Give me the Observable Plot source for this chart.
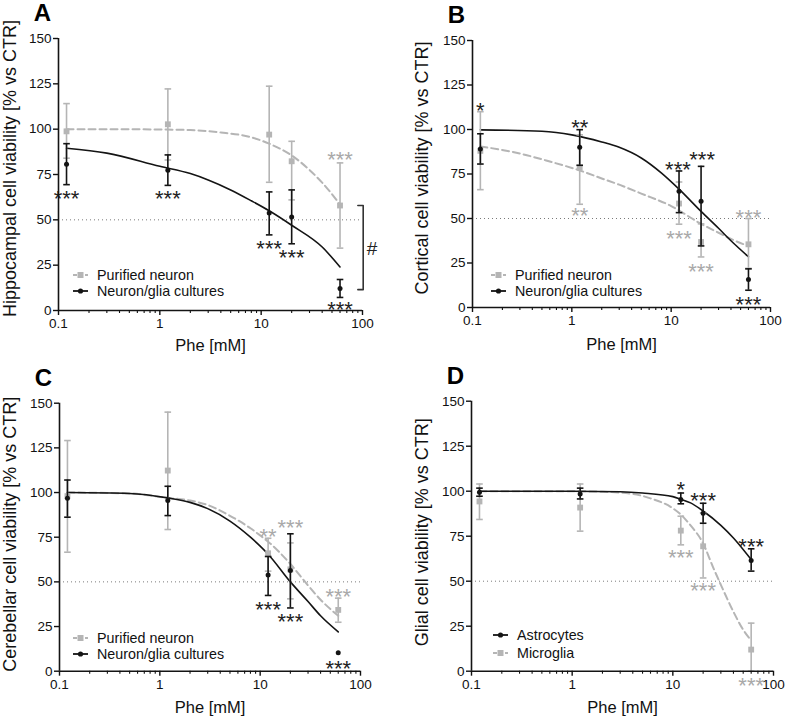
<!DOCTYPE html>
<html>
<head>
<meta charset="utf-8">
<script src="https://cdn.jsdelivr.net/npm/d3@7"></script>
<script src="https://cdn.jsdelivr.net/npm/@observablehq/plot@0.6"></script>
<style>
  body { margin: 0; background: #fff; }
  #wrap { position: relative; width: 787px; height: 719px; overflow: hidden; font-family: "Liberation Sans", Arial, sans-serif; }
  .leg { position: absolute; display: flex; align-items: center; height: 14px; line-height: 14px; font-size: 14.3px; color: #111; white-space: nowrap; }
  .leg svg { margin-right: 9px; flex: none; }
</style>
</head>
<body>
<div id="wrap"></div>
<script>
// ---------- shared axis data ----------
const doses = [0.12, 1.2, 12, 20, 60];
const xTicks = [0.1, 1, 10, 100];
const xMinor = [0.2, 0.3, 0.4, 0.5, 0.6, 0.7, 0.8, 0.9, 2, 3, 4, 5, 6, 7, 8, 9, 20, 30, 40, 50, 60, 70, 80, 90];
const yTicks = [0, 25, 50, 75, 100, 125, 150];
const xLabel = "Phe [mM]";

// ---------- Panel A: hippocampal ----------
const aPurMean = [98.8, 102.7, 97, 82.3, 57.9];
const aPurLo   = [84, 83, 70.7, 61, 34.4];
const aPurHi   = [114.1, 122.2, 123.7, 93.3, 81.4];
const aNgMean  = [80.6, 77.3, 53.8, 51.5, 12.2];
const aNgLo    = [69.4, 69, 41.7, 36.8, 7.2];
const aNgHi    = [92, 85.8, 65.4, 66.5, 17.1];
const aPurFitX = [0.12, 0.5, 1, 2, 4, 8, 12, 20, 30, 40, 60];
const aPurFitY = [100, 100, 99.8, 99.5, 98.2, 95.5, 92, 85.5, 77.5, 70.5, 58.5];
const aNgFitX  = [0.12, 0.3, 1, 2, 3, 5, 8, 12, 20, 40, 60];
const aNgFitY  = [89.5, 86.8, 79.5, 75.5, 72, 66.5, 60.5, 55, 47, 35, 24];
const aStarX   = [0.12, 1.2, 12, 20, 60, 60];
const aStarY   = [64.5, 64, 36.8, 31.8, 3.2, 86];
const aStarT   = ["***", "***", "***", "***", "***", "***"];
const aStarG   = ["ng", "ng", "ng", "ng", "ng", "pur"];
const aBracketX = [90, 101.6];
const aBracketY = [57.9, 11.5];
const aHashX = 124;
const aHashY = 34;

// ---------- Panel B: cortical ----------
const bPurMean = [88, 78.6, 58.4, 36.8, 35.5];
const bPurLo   = [66.2, 58, 46.8, 28.4, 22];
const bPurHi   = [110, 97, 70.5, 47, 50];
const bNgMean  = [89, 90, 65.3, 59.7, 15.7];
const bNgLo    = [80.6, 79.9, 53.3, 34.6, 9.7];
const bNgHi    = [97.6, 99.9, 76.7, 79.3, 21.7];
const bPurFitX = [0.12, 0.3, 0.6, 1.2, 2, 3, 5, 10, 20, 30, 40, 60];
const bPurFitY = [90.5, 86.5, 82, 77, 72.5, 69, 64, 57, 47, 42, 38.5, 34.5];
const bNgFitX  = [0.12, 0.5, 1, 2, 3, 5, 8, 12, 20, 30, 40, 60];
const bNgFitY  = [99.8, 99, 97, 93, 90, 84, 75.5, 66.5, 54, 44.5, 37.5, 28.5];
const bStarX   = [0.12, 1.2, 11.7, 20.5, 60, 1.2, 12, 20, 60];
const bStarY   = [113, 103.5, 80.3, 85.5, 4.1, 54, 41.5, 22.8, 53.3];
const bStarT   = ["*", "**", "***", "***", "***", "**", "***", "***", "***"];
const bStarG   = ["ng", "ng", "ng", "ng", "ng", "pur", "pur", "pur", "pur"];

// ---------- Panel C: cerebellar ----------
const cPurMean = [98, 112.3, 66, 57, 34.3];
const cPurLo   = [66.6, 79.3, 56, 40.5, 27.4];
const cPurHi   = [129.1, 145, 74.4, 71.8, 40.9];
const cNgMean  = [96.8, 95.5, 53.9, 56.3, 10.3];
const cNgLo    = [86.2, 87.1, 42.4, 35.4, null];
const cNgHi    = [107, 103.5, 64.2, 76.9, null];
const cPurFitX = [0.12, 0.5, 1.2, 2, 3, 5, 8, 10, 12, 20, 30, 40, 60];
const cPurFitY = [100, 99.5, 97, 95.5, 93, 87, 80, 76, 72.5, 60, 48, 40, 31];
const cNgFitX  = [0.12, 0.5, 1.2, 2, 3, 5, 8, 10, 12, 20, 30, 40, 60];
const cNgFitY  = [100, 99.5, 97, 94.5, 91, 84, 75, 70, 65.5, 50, 39, 31, 22];
const cStarX   = [12, 20, 60, 12, 20, 60];
const cStarY   = [77.8, 82.8, 44.6, 36.8, 30.2, 4.1];
const cStarT   = ["**", "***", "***", "***", "***", "***"];
const cStarG   = ["pur", "pur", "pur", "ng", "ng", "ng"];

// ---------- Panel D: glial ----------
const dAstMean = [99.4, 98.5, 95.4, 87.8, 61.5];
const dAstLo   = [97.2, 95.7, 93, 82.2, 55.6];
const dAstHi   = [101.7, 101.7, 99, 93.3, 68];
const dMicMean = [94.3, 90.9, 78.1, 69.4, 12];
const dMicLo   = [84.3, 77.8, 70.2, 51.8, 0];
const dMicHi   = [104, 104, 86.1, 88, 26.7];
const dMicFitX = [0.12, 1, 2, 4, 6, 10, 12, 15, 20, 25, 30, 40, 50, 60];
const dMicFitY = [100, 100, 99.7, 98.5, 96, 90.5, 87, 81, 71, 58, 48, 33, 23, 17];
const dAstFitX = [0.12, 1, 3, 5, 10, 12, 15, 20, 30, 40, 60];
const dAstFitY = [100, 100, 99.7, 99, 97, 95.5, 93.5, 89, 81, 74, 62];
const dStarX   = [12, 20, 60, 12, 20, 60];
const dStarY   = [103.2, 97.6, 72, 65.6, 47.2, -5.2];
const dStarT   = ["*", "***", "***", "***", "***", "***"];
const dStarG   = ["ng", "ng", "ng", "pur", "pur", "pur"];

// ---------- styling ----------
const FONT = "'Liberation Sans', Arial, sans-serif";
const GRAY = "#b5b5b5";
const GRAY_TXT = "#a9a9a9";
const BLACK = "#141414";
const capSym = { draw(ctx, size) { const r = Math.sqrt(size / Math.PI); ctx.moveTo(-r, 0); ctx.lineTo(r, 0); } };

function rows(mean, lo, hi) { return doses.map((d, i) => ({ dose: d, mean: mean[i], lo: lo[i], hi: hi[i] })); }
function pts(xs, ys) { return xs.map((x, i) => ({ x, y: ys[i] })); }
function stars(xs, ys, ts, gs) { return xs.map((x, i) => ({ x, y: ys[i], t: ts[i], g: gs[i] })); }

function seriesMarks(data, color, symbol, r) {
  return [
    Plot.ruleX(data, { x: "dose", y1: "lo", y2: "hi", stroke: color, strokeWidth: 1.6 }),
    Plot.dot(data, { x: "dose", y: "lo", symbol: capSym, r: 3.3, stroke: color, strokeWidth: 1.6, fill: "none" }),
    Plot.dot(data, { x: "dose", y: "hi", symbol: capSym, r: 3.3, stroke: color, strokeWidth: 1.6, fill: "none" }),
    Plot.dot(data, { x: "dose", y: "mean", symbol, r, fill: color, stroke: "none" })
  ];
}

function makePanel(cfg) {
  const st = cfg.stars;
  const marks = [
    Plot.ruleY([50], { stroke: "#7a7a7a", strokeWidth: 1, strokeDasharray: "1,3" }),
    Plot.line(cfg.grayFit, { x: "x", y: "y", curve: "monotone-x", stroke: GRAY, strokeWidth: 2, strokeDasharray: "7,4" }),
    Plot.line(cfg.blackFit, { x: "x", y: "y", curve: "monotone-x", stroke: BLACK, strokeWidth: 1.6 }),
    ...seriesMarks(cfg.grayRows, GRAY, "square", 3.3),
    ...seriesMarks(cfg.blackRows, BLACK, "circle", 2.5),
    Plot.text(st.filter(d => d.g === "pur"), { x: "x", y: "y", text: "t", fill: GRAY_TXT, fontSize: 22, dy: 5, lineAnchor: "middle" }),
    Plot.text(st.filter(d => d.g === "ng"), { x: "x", y: "y", text: "t", fill: "#222", fontSize: 22, dy: 5, lineAnchor: "middle" }),
    ...(cfg.extra || []),
    Plot.ruleX([0.1], { stroke: BLACK, strokeWidth: 1.6 }),
    Plot.ruleY([0], { stroke: BLACK, strokeWidth: 1.6 }),
    Plot.axisY({ ticks: yTicks, tickSize: 5, tickPadding: 2, label: null, fontSize: 13.5, strokeWidth: 1.4 }),
    Plot.axisX({ ticks: xTicks, tickSize: 5, tickPadding: 3, label: null, fontSize: 13.5, strokeWidth: 1.4,
                 tickFormat: d => (d === 0.1 ? "0.1" : String(d)) }),
    Plot.axisX({ ticks: xMinor, tickSize: 3, label: null, tickFormat: () => "", strokeWidth: 1.1 }),
    Plot.text([cfg.ylabel], { frameAnchor: "left", rotate: -90, dx: cfg.ylabDx, dy: cfg.ylabDy, fontSize: 18,
                              textAnchor: "middle", lineAnchor: "middle", fill: "#111" }),
    Plot.text([xLabel], { frameAnchor: "bottom", dy: cfg.xlabDy, fontSize: 16.5, textAnchor: "middle", lineAnchor: "middle", fill: "#111" }),
    Plot.text([cfg.letter], { frameAnchor: "top-left", dx: -16, dy: -25, fontSize: 24, fontWeight: "bold",
                              textAnchor: "middle", lineAnchor: "middle", fill: "#000" })
  ];
  const svg = Plot.plot({
    width: cfg.width, height: cfg.height,
    marginLeft: cfg.ml, marginRight: cfg.mr, marginTop: cfg.mt, marginBottom: cfg.mb,
    x: { type: "log", domain: [0.1, 100] },
    y: { domain: [0, 150] },
    style: { fontFamily: FONT, fontSize: "13.5px", background: "transparent", color: "#111", overflow: "visible" },
    marks
  });
  svg.style.position = "absolute";
  svg.style.left = cfg.left + "px";
  svg.style.top = cfg.top + "px";
  document.getElementById("wrap").appendChild(svg);
}

function legendRow(left, y, label, color, kind) {
  const div = document.createElement("div");
  div.className = "leg";
  div.style.left = left + "px";
  div.style.top = (y - 7) + "px";
  const marker = kind === "square"
    ? `<rect x="4.5" y="2" width="6" height="6" fill="${color}"/>`
    : `<circle cx="7.5" cy="5" r="2.6" fill="${color}"/>`;
  const dash = kind === "square" ? ` stroke-dasharray="4,2"` : "";
  div.innerHTML = `<svg width="15" height="10"><line x1="0" y1="5" x2="15" y2="5" stroke="${color}" stroke-width="1.8"${dash}/>${marker}</svg><span>${label}</span>`;
  document.getElementById("wrap").appendChild(div);
}

// Panel A
makePanel({
  letter: "A", ylabel: "Hippocampal cell viability [% vs CTR]",
  left: 0, top: 0, width: 393, height: 360, ml: 58, mr: 31, mt: 38, mb: 50,
  ylabDx: -48, ylabDy: -6, xlabDy: 35,
  grayRows: rows(aPurMean, aPurLo, aPurHi), blackRows: rows(aNgMean, aNgLo, aNgHi),
  grayFit: pts(aPurFitX, aPurFitY), blackFit: pts(aNgFitX, aNgFitY),
  stars: stars(aStarX, aStarY, aStarT, aStarG),
  extra: [
    Plot.line([{ x: aBracketX[0], y: aBracketY[0] }, { x: aBracketX[1], y: aBracketY[0] },
               { x: aBracketX[1], y: aBracketY[1] }, { x: aBracketX[0], y: aBracketY[1] }],
              { x: "x", y: "y", stroke: "#333", strokeWidth: 1.6 }),
    Plot.text(["#"], { x: aHashX, y: aHashY, fontSize: 19, fill: "#222", lineAnchor: "middle" })
  ]
});
legendRow(73, 274.5, "Purified neuron", GRAY, "square");
legendRow(73, 290.5, "Neuron/glia cultures", BLACK, "circle");

// Panel B
makePanel({
  letter: "B", ylabel: "Cortical cell viability [% vs CTR]",
  left: 393, top: 0, width: 394, height: 360, ml: 79, mr: 17, mt: 40, mb: 53,
  ylabDx: -50, ylabDy: -6, xlabDy: 37,
  grayRows: rows(bPurMean, bPurLo, bPurHi), blackRows: rows(bNgMean, bNgLo, bNgHi),
  grayFit: pts(bPurFitX, bPurFitY), blackFit: pts(bNgFitX, bNgFitY),
  stars: stars(bStarX, bStarY, bStarT, bStarG)
});
legendRow(491, 274.5, "Purified neuron", GRAY, "square");
legendRow(491, 290.5, "Neuron/glia cultures", BLACK, "circle");

// Panel C
makePanel({
  letter: "C", ylabel: "Cerebellar cell viability [% vs CTR]",
  left: 0, top: 360, width: 393, height: 359, ml: 59, mr: 33, mt: 42.7, mb: 48.3,
  ylabDx: -49, ylabDy: -3, xlabDy: 37,
  grayRows: rows(cPurMean, cPurLo, cPurHi), blackRows: rows(cNgMean, cNgLo, cNgHi),
  grayFit: pts(cPurFitX, cPurFitY), blackFit: pts(cNgFitX, cNgFitY),
  stars: stars(cStarX, cStarY, cStarT, cStarG)
});
legendRow(73, 637.5, "Purified neuron", GRAY, "square");
legendRow(73, 653.5, "Neuron/glia cultures", BLACK, "circle");

// Panel D
makePanel({
  letter: "D", ylabel: "Glial cell viability [% vs CTR]",
  left: 393, top: 360, width: 394, height: 359, ml: 78, mr: 14, mt: 40.7, mb: 48.3,
  ylabDx: -49.5, ylabDy: -4, xlabDy: 37,
  grayRows: rows(dMicMean, dMicLo, dMicHi), blackRows: rows(dAstMean, dAstLo, dAstHi),
  grayFit: pts(dMicFitX, dMicFitY), blackFit: pts(dAstFitX, dAstFitY),
  stars: stars(dStarX, dStarY, dStarT, dStarG)
});
legendRow(493, 635, "Astrocytes", BLACK, "circle");
legendRow(493, 653, "Microglia", GRAY, "square");
</script>
</body>
</html>
